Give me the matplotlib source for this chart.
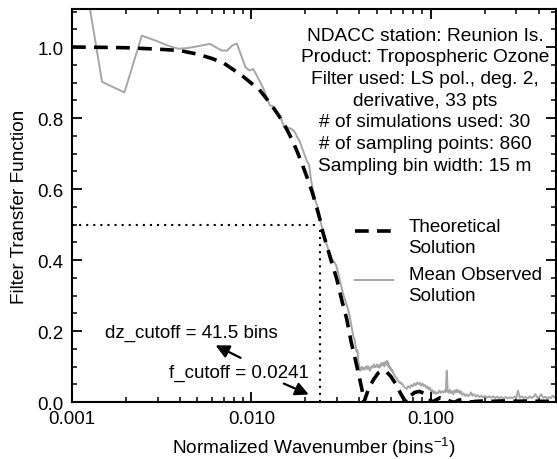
"""
Filter transfer function: theoretical vs mean observed (NDACC Reunion Is.)
"""

import matplotlib.pyplot as plt
import numpy as np
from matplotlib.legend_handler import HandlerLine2D
from matplotlib.ticker import FixedLocator, MultipleLocator, LogLocator, NullFormatter

plt.rcParams['font.family'] = ['Liberation Sans', 'DejaVu Sans']

# ================== DATA ==================

# Theoretical transfer function
f_theo = [0.001, 0.0015, 0.002, 0.003, 0.004, 0.005, 0.006, 0.007, 0.008, 0.009,
          0.010, 0.011, 0.012, 0.013, 0.014, 0.015, 0.016, 0.017, 0.018, 0.019,
          0.020, 0.021, 0.022, 0.023, 0.024, 0.025, 0.026, 0.028, 0.030, 0.032,
          0.034, 0.036, 0.038, 0.040, 0.042, 0.0425, 0.045, 0.048, 0.051, 0.054,
          0.057, 0.060, 0.064, 0.068, 0.071, 0.0735, 0.077, 0.0815, 0.0865, 0.092,
          0.097, 0.1025, 0.108, 0.113, 0.119, 0.126, 0.132, 0.137, 0.143, 0.150,
          0.158, 0.167, 0.18, 0.20, 0.22, 0.25, 0.30, 0.35, 0.40, 0.45, 0.50]
h_theo = [1.000, 0.999, 0.998, 0.994, 0.990, 0.980, 0.968, 0.955, 0.935, 0.917,
          0.898, 0.882, 0.858, 0.835, 0.812, 0.788, 0.762, 0.735, 0.706, 0.676,
          0.646, 0.617, 0.586, 0.553, 0.519, 0.480, 0.450, 0.395, 0.345, 0.285,
          0.235, 0.170, 0.120, 0.070, 0.020, 0.000, 0.037, 0.063, 0.082, 0.088,
          0.084, 0.072, 0.050, 0.024, 0.008, 0.000, 0.017, 0.027, 0.030, 0.024,
          0.012, 0.000, 0.007, 0.012, 0.010, 0.004, 0.000, 0.000, 0.005, 0.007,
          0.004, 0.000, 0.002, 0.003, 0.002, 0.003, 0.002, 0.003, 0.002, 0.002, 0.002]

# Mean observed transfer function (30 simulations)
f_obs = [0.00098, 0.00147, 0.00196, 0.00245, 0.00293, 0.00342, 0.00391, 0.00439, 0.00488, 0.00537,
         0.00586, 0.00635, 0.00684, 0.00732, 0.00781, 0.00830, 0.00879, 0.00928, 0.00977, 0.01025,
         0.01074, 0.01123, 0.01172, 0.01221, 0.01270, 0.01318, 0.01367, 0.01416, 0.01465, 0.01514,
         0.01563, 0.01611, 0.01660, 0.01709, 0.01758, 0.01807, 0.01855, 0.01904, 0.01953, 0.02002,
         0.02051, 0.02100, 0.02148, 0.02197, 0.02246, 0.02295, 0.02344, 0.02393, 0.02441, 0.02490,
         0.02539, 0.02588, 0.02637, 0.02686, 0.02734, 0.02783, 0.02832, 0.02881, 0.02930, 0.02979,
         0.03027, 0.03076, 0.03125, 0.03174, 0.03223, 0.03271, 0.03320, 0.03369, 0.03418, 0.03467,
         0.03516, 0.03564, 0.03613, 0.03662, 0.03711, 0.03760, 0.03809, 0.03857, 0.03906, 0.03955,
         0.04004, 0.04053, 0.04102, 0.04150, 0.04199, 0.04248, 0.04297, 0.04346, 0.04395, 0.04443,
         0.04492, 0.04541, 0.04590, 0.04639, 0.04688, 0.04736, 0.04785, 0.04834, 0.04883, 0.04932,
         0.04980, 0.05029, 0.05078, 0.05127, 0.05176, 0.05225, 0.05273, 0.05322, 0.05371, 0.05420,
         0.05469, 0.05518, 0.05566, 0.05615, 0.05664, 0.05713, 0.05762, 0.05811, 0.05859, 0.05908,
         0.05957, 0.06006, 0.06055, 0.06104, 0.06152, 0.06201, 0.06250, 0.06299, 0.06348, 0.06396,
         0.06445, 0.06494, 0.06543, 0.06592, 0.06641, 0.06689, 0.06738, 0.06787, 0.06836, 0.06885,
         0.06934, 0.06982, 0.0705, 0.072, 0.0735, 0.075, 0.0765, 0.078, 0.0795, 0.081,
         0.0825, 0.084, 0.0855, 0.087, 0.0885, 0.090, 0.0915, 0.093, 0.0945, 0.096,
         0.0975, 0.099, 0.1005, 0.102, 0.1035, 0.105, 0.1065, 0.108, 0.110, 0.112,
         0.114, 0.116, 0.118, 0.120, 0.1215, 0.123, 0.1245, 0.126, 0.128, 0.130,
         0.132, 0.134, 0.136, 0.138, 0.140, 0.142, 0.144, 0.146, 0.148, 0.150,
         0.153, 0.156, 0.159, 0.162, 0.165, 0.168, 0.171, 0.175, 0.179, 0.183,
         0.187, 0.191, 0.196, 0.201, 0.206, 0.211, 0.217, 0.223, 0.229, 0.235,
         0.241, 0.248, 0.255, 0.262, 0.269, 0.277, 0.285, 0.293, 0.300, 0.307,
         0.314, 0.322, 0.330, 0.339, 0.348, 0.357, 0.366, 0.375, 0.384, 0.393,
         0.403, 0.413, 0.424, 0.435, 0.446, 0.457, 0.469, 0.481, 0.493, 0.505]
h_obs = [1.440, 0.902, 0.872, 1.032, 1.018, 1.004, 0.995, 0.997, 1.001, 1.005,
         1.009, 0.999, 0.990, 0.990, 1.004, 1.010, 0.976, 0.943, 0.934, 0.938,
         0.919, 0.900, 0.881, 0.857, 0.835, 0.834, 0.820, 0.810, 0.797, 0.778,
         0.775, 0.772, 0.770, 0.766, 0.758, 0.745, 0.736, 0.720, 0.705, 0.690,
         0.676, 0.668, 0.628, 0.602, 0.580, 0.562, 0.550, 0.525, 0.505, 0.487,
         0.470, 0.455, 0.442, 0.430, 0.420, 0.410, 0.401, 0.396, 0.391, 0.383,
         0.370, 0.355, 0.340, 0.325, 0.312, 0.300, 0.290, 0.280, 0.270, 0.260,
         0.248, 0.232, 0.215, 0.200, 0.183, 0.178, 0.160, 0.142, 0.146, 0.112,
         0.100, 0.088, 0.096, 0.099, 0.091, 0.096, 0.092, 0.099, 0.101, 0.093,
         0.100, 0.095, 0.088, 0.096, 0.101, 0.097, 0.100, 0.106, 0.098, 0.101,
         0.100, 0.106, 0.098, 0.103, 0.097, 0.105, 0.100, 0.110, 0.104, 0.107,
         0.111, 0.100, 0.112, 0.113, 0.108, 0.116, 0.102, 0.110, 0.098, 0.100,
         0.092, 0.095, 0.087, 0.090, 0.084, 0.080, 0.079, 0.074, 0.072, 0.069,
         0.068, 0.064, 0.061, 0.059, 0.057, 0.056, 0.054, 0.055, 0.052, 0.053,
         0.050, 0.049, 0.045, 0.040, 0.037, 0.045, 0.040, 0.048, 0.044, 0.052,
         0.047, 0.055, 0.050, 0.054, 0.046, 0.052, 0.045, 0.048, 0.040, 0.044,
         0.036, 0.040, 0.030, 0.034, 0.025, 0.030, 0.023, 0.027, 0.025, 0.032,
         0.026, 0.030, 0.027, 0.033, 0.028, 0.088, 0.030, 0.026, 0.034, 0.025,
         0.030, 0.022, 0.033, 0.027, 0.035, 0.028, 0.032, 0.024, 0.030, 0.020,
         0.024, 0.017, 0.022, 0.016, 0.020, 0.027, 0.018, 0.022, 0.015, 0.019,
         0.014, 0.018, 0.013, 0.017, 0.012, 0.016, 0.012, 0.016, 0.011, 0.015,
         0.011, 0.014, 0.010, 0.014, 0.010, 0.013, 0.011, 0.015, 0.011, 0.032,
         0.012, 0.016, 0.011, 0.014, 0.010, 0.016, 0.011, 0.015, 0.022, 0.012,
         0.014, 0.022, 0.012, 0.015, 0.010, 0.014, 0.011, 0.018, 0.012, 0.013]

# Cutoff
f_cutoff = 0.0241
h_half = 0.5

info_lines = ['NDACC station: Reunion Is.',
              'Product: Tropospheric Ozone',
              'Filter used: LS pol., deg. 2,',
              'derivative, 33 pts',
              '# of simulations used: 30',
              '# of sampling points: 860',
              'Sampling bin width: 15 m']

x_ticks = [0.001, 0.01, 0.1]
x_ticklabels = ['0.001', '0.010', '0.100']
y_ticks = [0.0, 0.2, 0.4, 0.6, 0.8, 1.0]
y_ticklabels = ['0.0', '0.2', '0.4', '0.6', '0.8', '1.0']


# legend handle sitting on the first line of a two-line label
class HandlerTopLine(HandlerLine2D):
    def create_artists(self, legend, orig_handle, xdescent, ydescent,
                       width, height, fontsize, trans):
        arts = super().create_artists(legend, orig_handle, xdescent, ydescent,
                                      width, height, fontsize, trans)
        for a in arts:
            a.set_ydata(np.asarray(a.get_ydata()) + 0.3 * fontsize)
        return arts


# ================== PLOT ==================
fig = plt.figure(figsize=(5.57, 4.60), dpi=100)
ax = fig.add_axes([0.1293, 0.1239, 0.8689, 0.8543])

gray = '#a6a6a6'
line_obs, = ax.plot(f_obs, h_obs, color=gray, lw=1.4)
line_theo, = ax.plot(f_theo, h_theo, color='k', lw=2.6, linestyle='--',
                     dashes=(3.8, 2.3))

# 0.5 level and cutoff frequency
ax.hlines(h_half, x_ticks[0], f_cutoff, colors='k', lw=1.5, linestyles=(0, (1, 2.4)))
ax.vlines(f_cutoff, 0, h_half, colors='k', lw=1.5, linestyles=(0, (1, 2.4)))

ax.set_xscale('log')
ax.set_xlim(0.001, 0.5)
ax.set_ylim(0.0, 1.107)

ax.xaxis.set_major_locator(FixedLocator(x_ticks))
ax.set_xticklabels(x_ticklabels)
ax.xaxis.set_minor_locator(LogLocator(base=10, subs=np.arange(2, 10)))
ax.xaxis.set_minor_formatter(NullFormatter())
ax.set_yticks(y_ticks)
ax.set_yticklabels(y_ticklabels)
ax.yaxis.set_minor_locator(MultipleLocator(0.05))

ax.tick_params(which='both', direction='in', top=True, right=True, labelsize=13.5)
ax.tick_params(which='major', length=7, width=1.3, pad=6)
ax.tick_params(which='minor', length=3.5, width=1.1)
for s in ax.spines.values():
    s.set_linewidth(1.5)

ax.set_xlabel('Normalized Wavenumber (bins$^{\\mathregular{-1}}$)', fontsize=13.7, labelpad=5)
ax.set_ylabel('Filter Transfer Function', fontsize=13.7, labelpad=7)

# info block
ax.text(0.729, 0.955, '\n'.join(info_lines), transform=ax.transAxes, ha='center',
        va='top', multialignment='center', fontsize=13.8, linespacing=1.36)

# cutoff annotations
ax.text(0.00464, 0.196, 'dz_cutoff = 41.5 bins', ha='center', va='center', fontsize=13.5)
ax.text(0.00853, 0.084, 'f_cutoff = 0.0241', ha='center', va='center', fontsize=13.5)
ax.annotate('', xy=(0.00612, 0.163), xytext=(0.00899, 0.121),
            arrowprops=dict(arrowstyle='-|>', color='k', lw=1.6, mutation_scale=20))
ax.annotate('', xy=(0.0216, 0.018), xytext=(0.01468, 0.055),
            arrowprops=dict(arrowstyle='-|>', color='k', lw=1.6, mutation_scale=20))

leg = ax.legend([line_theo, line_obs], ['Theoretical\nSolution', 'Mean Observed\nSolution'],
                loc='upper left', bbox_to_anchor=(0.585, 0.468), frameon=False,
                fontsize=13.5, handlelength=2.0, handletextpad=0.85, borderpad=0,
                borderaxespad=0, labelspacing=0.55,
                handler_map={line_theo: HandlerTopLine(), line_obs: HandlerTopLine()})
for t in leg.get_texts():
    t.set_linespacing(1.3)

plt.savefig('out.png', dpi=100)
